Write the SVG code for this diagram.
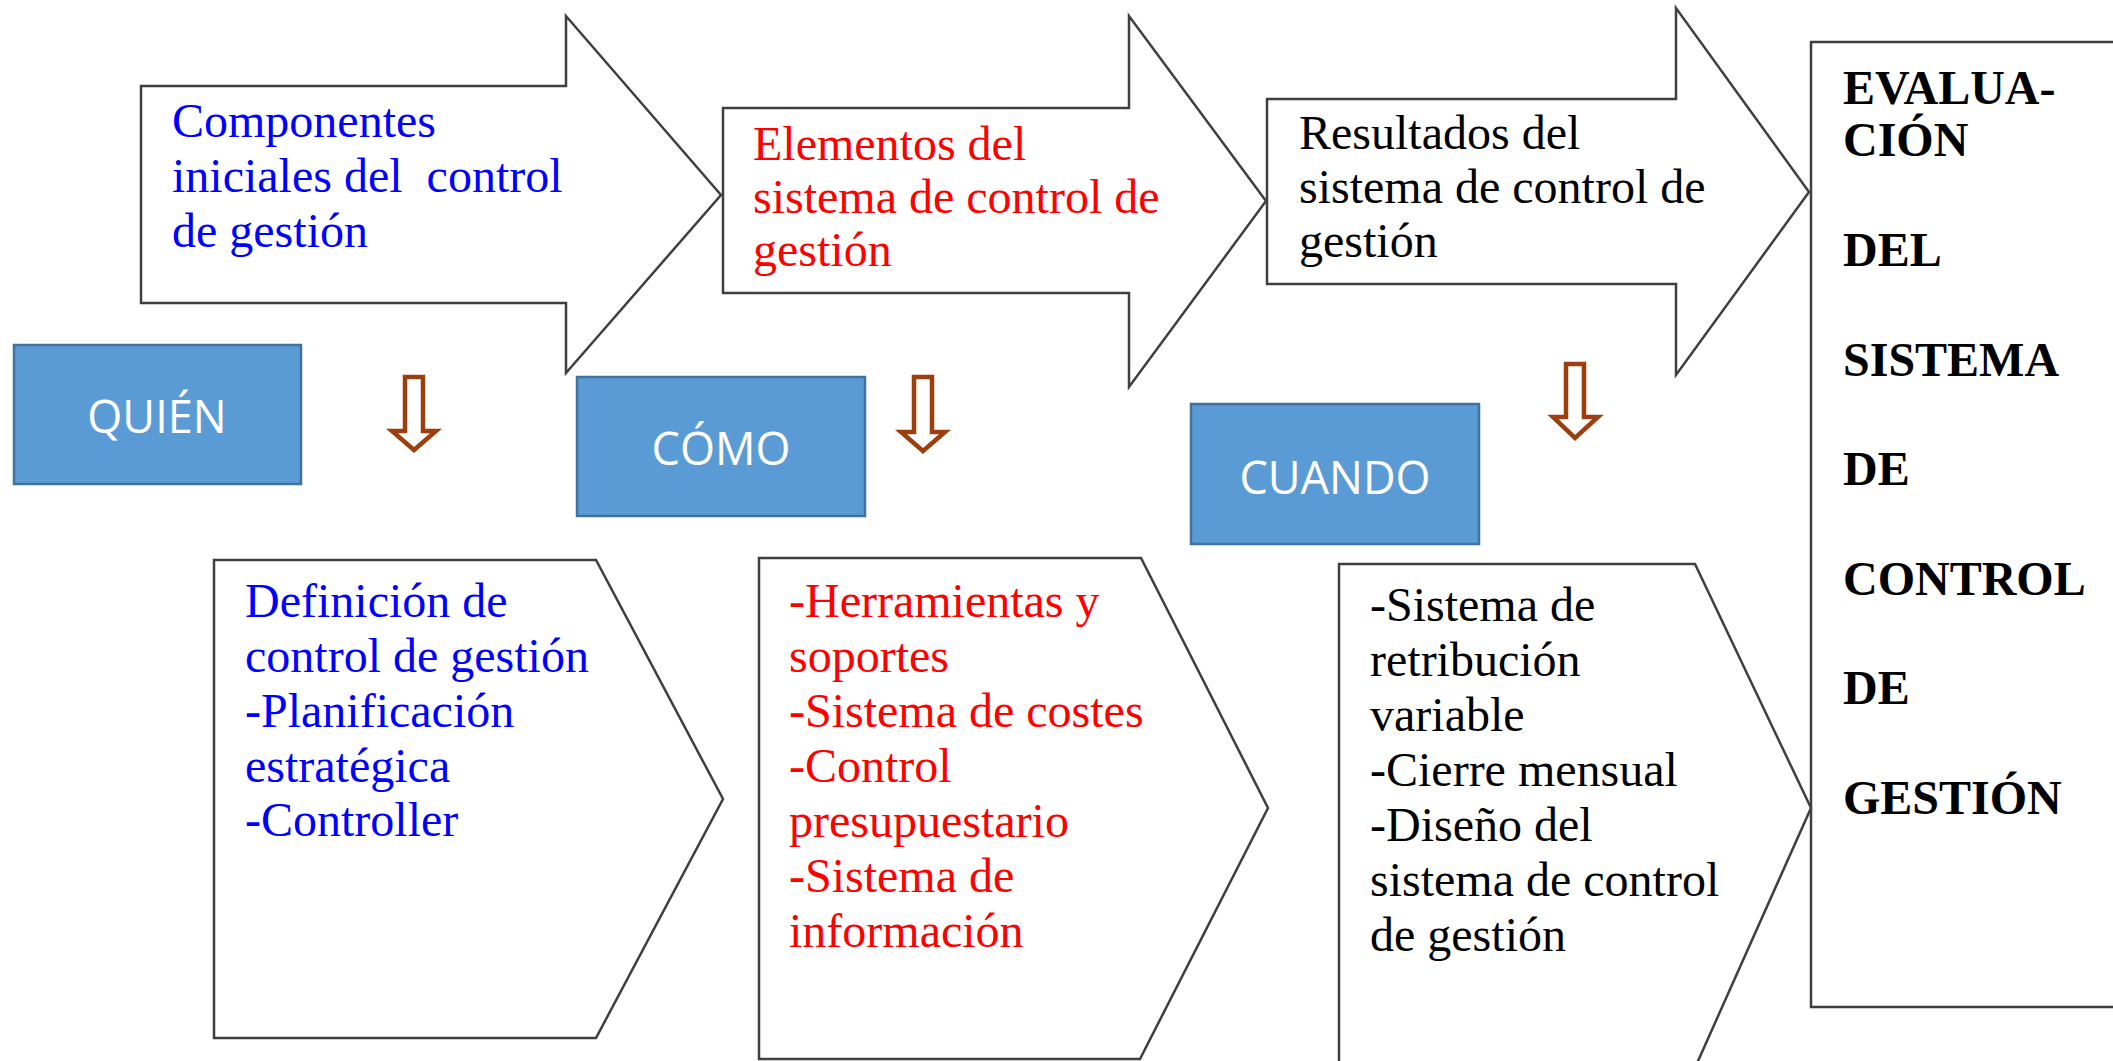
<svg xmlns="http://www.w3.org/2000/svg" width="2113" height="1061" viewBox="0 0 2113 1061">
<style>
.shape{fill:#ffffff;stroke:#3f3f3f;stroke-width:2.5;stroke-linejoin:miter}
.box{fill:#5b9bd5;stroke:#41719c;stroke-width:2.5}
.down{fill:#ffffff;stroke:#9c3f0f;stroke-width:4.5;stroke-linejoin:miter}
.t{font-family:"Liberation Serif","Times New Roman",serif;font-size:48px;white-space:pre}
.b{fill:#0000ff}.r{fill:#ff0000}.k{fill:#000000}
.bold{font-weight:bold}
.lbl{font-family:"Open Sans","Noto Sans",sans-serif;font-size:45px;fill:#ffffff;text-anchor:middle}
</style>
<rect x="0" y="0" width="2113" height="1061" fill="#ffffff"/>
<g id="connectors">
<path class="down" d="M405,377 L423,377 L423,431 L436,431 L414,450 L392,431 L405,431 Z"/>
<path class="down" d="M914,377 L932,377 L932,432 L945,432 L923,451 L901,432 L914,432 Z"/>
<path class="down" d="M1566,364 L1584,364 L1584,417 L1598,417 L1575,438 L1553,417 L1566,417 Z"/>
</g>
<g id="arrow1">
<path class="shape" d="M141,86 L566,86 L566,16 L721,195 L566,373 L566,303 L141,303 Z"/>
<text class="t b" x="172" y="137">Componentes</text>
<text class="t b" x="172" y="192">iniciales del  control</text>
<text class="t b" x="172" y="247">de gestión</text>
</g>
<g id="arrow2">
<path class="shape" d="M723,108 L1129,108 L1129,16 L1266,201 L1129,387 L1129,293 L723,293 Z"/>
<text class="t r" x="753" y="160">Elementos del</text>
<text class="t r" x="753" y="213">sistema de control de</text>
<text class="t r" x="753" y="266">gestión</text>
</g>
<g id="arrow3">
<path class="shape" d="M1267,99 L1676,99 L1676,8 L1809,192 L1676,375 L1676,284 L1267,284 Z"/>
<text class="t k" x="1299" y="149">Resultados del</text>
<text class="t k" x="1299" y="203">sistema de control de</text>
<text class="t k" x="1299" y="257">gestión</text>
</g>
<g id="evaluacion">
<rect class="shape" x="1811" y="42" width="320" height="965"/>
<text class="t k bold" x="1843" y="104">EVALUA-</text>
<text class="t k bold" x="1843" y="156">CIÓN</text>
<text class="t k bold" x="1843" y="266">DEL</text>
<text class="t k bold" x="1843" y="376">SISTEMA</text>
<text class="t k bold" x="1843" y="485">DE</text>
<text class="t k bold" x="1843" y="595">CONTROL</text>
<text class="t k bold" x="1843" y="704">DE</text>
<text class="t k bold" x="1843" y="814">GESTIÓN</text>
</g>
<g id="quien">
<rect class="box" x="14" y="345" width="287" height="139"/>
<text class="lbl" x="157" y="433">QUIÉN</text>
</g>
<g id="como">
<rect class="box" x="577" y="377" width="288" height="139"/>
<text class="lbl" x="721" y="465">CÓMO</text>
</g>
<g id="cuando">
<rect class="box" x="1191" y="404" width="288" height="140"/>
<text class="lbl" x="1335" y="494">CUANDO</text>
</g>
<g id="pent1">
<path class="shape" d="M214,560 L596,560 L723,799 L596,1038 L214,1038 Z"/>
<text class="t b" x="245" y="617">Definición de</text>
<text class="t b" x="245" y="672">control de gestión</text>
<text class="t b" x="245" y="727">-Planificación</text>
<text class="t b" x="245" y="782">estratégica</text>
<text class="t b" x="245" y="836">-Controller</text>
</g>
<g id="pent2">
<path class="shape" d="M759,558 L1141,558 L1268,808 L1140,1059 L759,1059 Z"/>
<text class="t r" x="789" y="617">-Herramientas y</text>
<text class="t r" x="789" y="672">soportes</text>
<text class="t r" x="789" y="727">-Sistema de costes</text>
<text class="t r" x="789" y="782">-Control</text>
<text class="t r" x="789" y="837">presupuestario</text>
<text class="t r" x="789" y="892">-Sistema de</text>
<text class="t r" x="789" y="947">información</text>
</g>
<g id="pent3">
<path class="shape" d="M1339,564 L1695,564 L1811,808 L1694,1070 L1339,1070 Z"/>
<text class="t k" x="1370" y="621">-Sistema de</text>
<text class="t k" x="1370" y="676">retribución</text>
<text class="t k" x="1370" y="731">variable</text>
<text class="t k" x="1370" y="786">-Cierre mensual</text>
<text class="t k" x="1370" y="841">-Diseño del</text>
<text class="t k" x="1370" y="896">sistema de control</text>
<text class="t k" x="1370" y="951">de gestión</text>
</g>
</svg>
